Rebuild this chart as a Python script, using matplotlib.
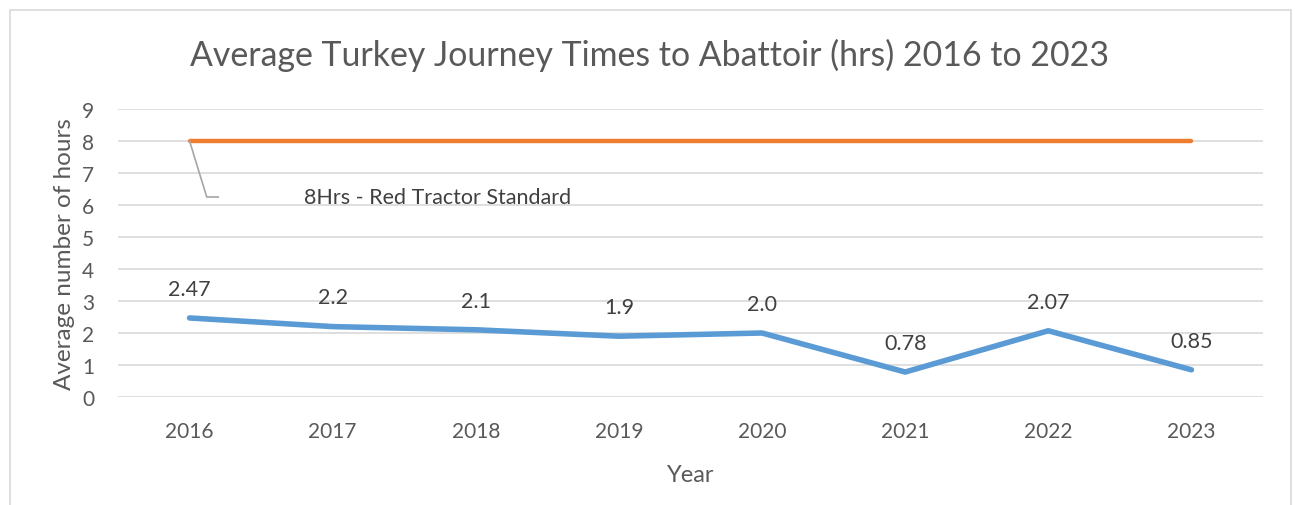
import numpy as np
import matplotlib.pyplot as plt
from matplotlib.patches import Rectangle

years = ['2016', '2017', '2018', '2019', '2020', '2021', '2022', '2023']
journey = [2.47, 2.2, 2.1, 1.9, 2.0, 0.78, 2.07, 0.85]
journey_labels = ['2.47', '2.2', '2.1', '1.9', '2.0', '0.78', '2.07', '0.85']
standard = [8, 8, 8, 8, 8, 8, 8, 8]

plt.rcParams['font.family'] = ['Lato', 'DejaVu Sans']

fig = plt.figure(figsize=(12.95, 5.06), dpi=100)
ax = fig.add_axes([118/1295, 1-398/506, (1263-118)/1295, (398-110)/506])

# chart border
fig.patches.append(Rectangle((10/1295, -0.01), 1281/1295, 1-11/506+0.01,
                             transform=fig.transFigure, fill=False,
                             edgecolor='#D9D9D9', linewidth=1.2))

x = np.arange(len(years))
ax.plot(x, standard, color='#ED7D31', linewidth=3.2, solid_capstyle='round')
ax.plot(x, journey, color='#5B9BD5', linewidth=4.0, solid_capstyle='round')

for xi, yi, lab in zip(x, journey, journey_labels):
    ax.annotate(lab, (xi, yi), xytext=(0, 21), textcoords='offset points',
                ha='center', va='center', fontsize=15.5, color='#404040')

# leader line + label for the standard
ax.plot([0, 0.12, 0.2], [8, 6.25, 6.25], color='#A6A6A6', lw=1.2)
ax.text(1.73, 6.25, '8Hrs - Red Tractor Standard', ha='center', va='center',
        fontsize=15.5, color='#404040')

ax.set_xlim(-0.5, 7.5)
ax.set_ylim(0, 9)
ax.set_yticks(range(0, 10))
ax.set_xticks(x)
ax.set_xticklabels(years)
ax.yaxis.grid(True, color='#D9D9D9', linewidth=1.2)
ax.set_axisbelow(True)
for s in ax.spines.values():
    s.set_visible(False)
ax.tick_params(length=0, labelsize=15, colors='#595959')
ax.tick_params(axis='y', pad=17)
ax.tick_params(axis='x', pad=17)

ax.set_ylabel('Average number of hours', fontsize=17.5, color='#595959', labelpad=5)
ax.set_xlabel('Year', fontsize=17, color='#595959', labelpad=17)
fig.text(650/1295, 1-55/506, 'Average Turkey Journey Times to Abattoir (hrs) 2016 to 2023',
         ha='center', va='center', fontsize=24.4, color='#595959')

fig.savefig('out.png', dpi=100, facecolor='white')
